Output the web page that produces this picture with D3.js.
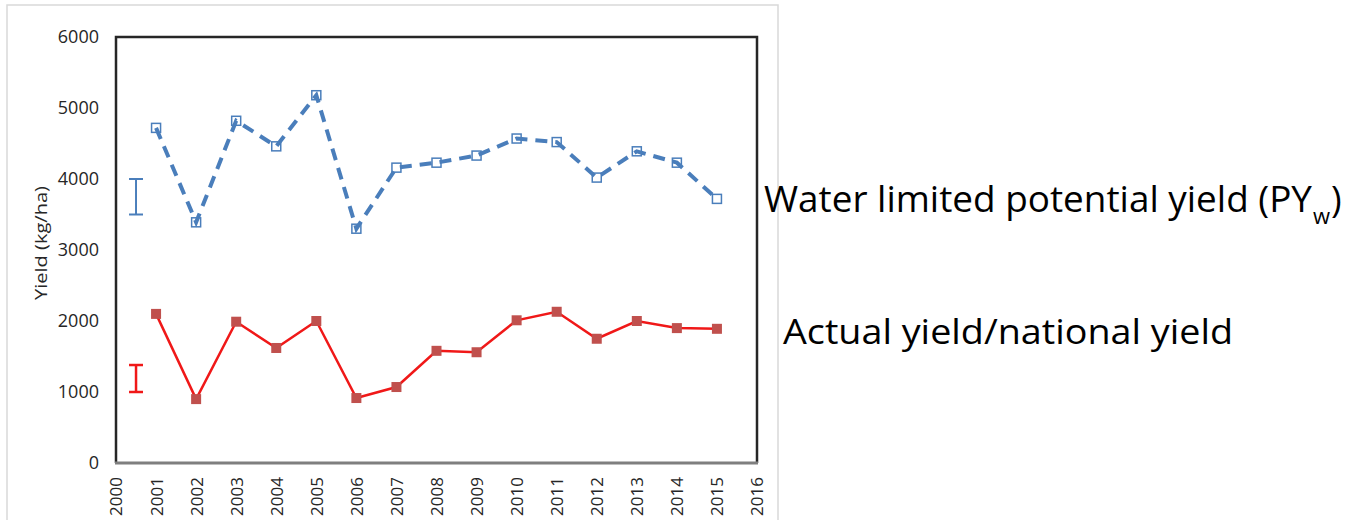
<!DOCTYPE html>
<html>
<head>
<meta charset="utf-8">
<script src="https://cdn.jsdelivr.net/npm/d3@7"></script>
<style>
  body { margin: 0; background: #fff; }
  svg { display: block; font-family: "Open Sans", sans-serif; }
</style>
</head>
<body>
<div id="vis"></div>
<script>
// data
const YEARS = [2001, 2002, 2003, 2004, 2005, 2006, 2007, 2008, 2009, 2010, 2011, 2012, 2013, 2014, 2015];
const PYW = [4720, 3390, 4820, 4460, 5180, 3300, 4160, 4230, 4330, 4570, 4520, 4020, 4390, 4230, 3720];
const ACTUAL = [2100, 900, 1990, 1620, 2000, 915, 1070, 1580, 1560, 2010, 2130, 1750, 2000, 1900, 1890];
const X_TICKS = [2000, 2001, 2002, 2003, 2004, 2005, 2006, 2007, 2008, 2009, 2010, 2011, 2012, 2013, 2014, 2015, 2016];
const Y_TICKS = [0, 1000, 2000, 3000, 4000, 5000, 6000];
// error bars drawn left of the first year
const ERR_YEAR = 2000.5;
const PYW_ERR = [3500, 4000];
const ACTUAL_ERR = [1000, 1380];

const LABEL_PYW = "Water limited potential yield (PY";
const LABEL_ACTUAL = "Actual yield/national yield";
const Y_TITLE = "Yield (kg/ha)";

// frame
const FRAME_WIDTH = 1348;
const FRAME_HEIGHT = 520;
const PLOT = {left: 116, right: 757, top: 37, bottom: 463};

const BLUE = "#4a7ebb";
const RED_LINE = "#f01818";
const RED_MARK = "#c0504d";
const TEXT = "#262626";

const svg = d3.select("#vis")
  .append("svg")
    .attr("width", FRAME_WIDTH)
    .attr("height", FRAME_HEIGHT);

const X_SCALE = d3.scaleLinear()
  .domain([2000, 2016])
  .range([PLOT.left, PLOT.right]);

const Y_SCALE = d3.scaleLinear()
  .domain([0, 6000])
  .range([PLOT.bottom, PLOT.top]);

// outer chart area border
svg.append("rect")
  .attr("x", 7)
  .attr("y", 5)
  .attr("width", 771)
  .attr("height", 530)
  .attr("fill", "#fff")
  .attr("stroke", "#d9d9d9")
  .attr("stroke-width", 1.5);

// plot border (left, top, right)
svg.append("path")
  .attr("d", "M" + PLOT.left + "," + PLOT.bottom +
             "V" + PLOT.top + "H" + PLOT.right + "V" + PLOT.bottom)
  .attr("fill", "none")
  .attr("stroke", TEXT)
  .attr("stroke-width", 2.5);

// y axis labels
const yAxis = svg.append("g")
  .attr("transform", "translate(" + PLOT.left + ",0)")
  .call(d3.axisLeft(Y_SCALE).tickValues(Y_TICKS).tickFormat(d3.format("d"))
          .tickSize(0).tickPadding(17));
yAxis.select(".domain").remove();
yAxis.selectAll("text")
  .style("font-size", "18px")
  .style("font-family", "'Open Sans'")
  .attr("fill", TEXT);

// x axis labels, rotated
const xAxis = svg.append("g")
  .attr("transform", "translate(0," + PLOT.bottom + ")")
  .call(d3.axisBottom(X_SCALE).tickValues(X_TICKS).tickFormat(d3.format("d")).tickSize(0));
xAxis.select(".domain").remove();
xAxis.selectAll("text")
  .style("font-size", "17px")
  .style("font-family", "'Open Sans'")
  .attr("fill", TEXT)
  .attr("transform", "rotate(-90)")
  .attr("x", -14)
  .attr("y", 0)
  .attr("dy", "0.35em")
  .style("text-anchor", "end");

// y title
svg.append("text")
  .attr("transform", "translate(47,243) rotate(-90)")
  .attr("text-anchor", "middle")
  .style("font-size", "16px")
  .attr("fill", TEXT)
  .attr("textLength", 114)
  .attr("lengthAdjust", "spacingAndGlyphs")
  .text(Y_TITLE);

// error bars
function errorBar(range, color, width) {
  const g = svg.append("g")
    .attr("stroke", color)
    .attr("stroke-width", width)
    .attr("fill", "none");
  const cx = X_SCALE(ERR_YEAR);
  g.append("line")
    .attr("x1", cx).attr("x2", cx)
    .attr("y1", Y_SCALE(range[0])).attr("y2", Y_SCALE(range[1]));
  range.forEach((v) => {
    g.append("line")
      .attr("x1", cx - 7).attr("x2", cx + 7)
      .attr("y1", Y_SCALE(v)).attr("y2", Y_SCALE(v));
  });
}
errorBar(PYW_ERR, BLUE, 2);
errorBar(ACTUAL_ERR, RED_LINE, 2.5);

const line = d3.line()
  .x((d, i) => X_SCALE(YEARS[i]))
  .y((d) => Y_SCALE(d));

// water limited potential yield: hollow squares, dashed line
svg.selectAll(".pyw")
  .data(PYW)
  .enter()
  .append("rect")
    .attr("class", "pyw")
    .attr("x", (d, i) => X_SCALE(YEARS[i]) - 4.5)
    .attr("y", (d) => Y_SCALE(d) - 4.5)
    .attr("width", 9)
    .attr("height", 9)
    .attr("fill", "#fff")
    .attr("stroke", BLUE)
    .attr("stroke-width", 1.5);

svg.append("path")
  .datum(PYW)
  .attr("d", line)
  .attr("fill", "none")
  .attr("stroke", BLUE)
  .attr("stroke-width", 4)
  .attr("stroke-dasharray", "12,8");

// actual yield: solid red line, filled squares
svg.append("path")
  .datum(ACTUAL)
  .attr("d", line)
  .attr("fill", "none")
  .attr("stroke", RED_LINE)
  .attr("stroke-width", 2.5);

svg.selectAll(".actual")
  .data(ACTUAL)
  .enter()
  .append("rect")
    .attr("class", "actual")
    .attr("x", (d, i) => X_SCALE(YEARS[i]) - 5)
    .attr("y", (d) => Y_SCALE(d) - 5)
    .attr("width", 10)
    .attr("height", 10)
    .attr("fill", RED_MARK);

// bottom axis line
svg.append("line")
  .attr("x1", PLOT.left - 1)
  .attr("x2", PLOT.right + 1)
  .attr("y1", PLOT.bottom)
  .attr("y2", PLOT.bottom)
  .attr("stroke", "#7f7f7f")
  .attr("stroke-width", 3);

// series labels on the right
const pywLabel = svg.append("text")
  .style("font-size", "36px")
  .attr("fill", "#000");
pywLabel.append("tspan")
  .attr("x", 764)
  .attr("y", 212)
  .attr("textLength", 548)
  .attr("lengthAdjust", "spacingAndGlyphs")
  .text(LABEL_PYW);
pywLabel.append("tspan")
  .attr("x", 1313)
  .attr("y", 224)
  .style("font-size", "22px")
  .text("w");
pywLabel.append("tspan")
  .attr("x", 1331)
  .attr("y", 212)
  .text(")");

svg.append("text")
  .attr("x", 783)
  .attr("y", 344)
  .style("font-size", "35px")
  .attr("fill", "#000")
  .attr("textLength", 450)
  .attr("lengthAdjust", "spacingAndGlyphs")
  .text(LABEL_ACTUAL);
</script>
</body>
</html>
